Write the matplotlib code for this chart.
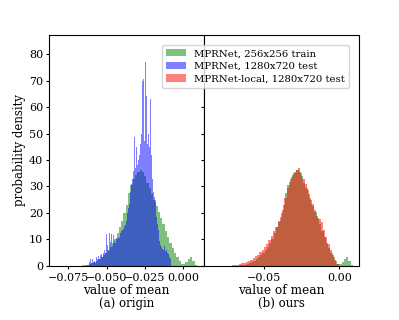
import numpy as np
import matplotlib
matplotlib.use("Agg")
import matplotlib.pyplot as plt

# ── Data (bin heights) ─────────────────────────────────────────────

# MPRNet, 256x256 train (same histogram in both panels)
train_start, train_width = -0.066, 0.0015
train_heights = [
    0.2, 0.3, 0.5, 0.8, 1.1, 1.5, 2.0, 2.6, 3.3, 4.0,
    5.0, 6.1, 7.3, 8.6, 10.2, 12.5, 14.8, 17.0, 19.8, 23.0,
    27.5, 30.5, 33.0, 34.5, 35.6, 36.3, 35.5, 33.8, 31.5, 29.5,
    27.0, 25.0, 22.5, 20.2, 18.0, 16.0, 13.0, 10.8, 8.5, 6.8,
    5.0, 3.3, 1.8, 0.8, 0.8, 1.6, 2.8, 3.4, 2.0, 0.5,
]

# MPRNet, 1280x720 test (left panel) - spiky, fine bins
test_start, test_width = -0.063, 0.0005
test_heights = [
    0.3, 0.8, 0.5, 1.5, 2.5, 0.8, 1.2, 2.8, 1.5, 3.0,
    2.0, 1.0, 3.5, 2.0, 2.5, 3.8, 2.8, 4.0, 3.0, 4.5,
    3.5, 5.0, 4.5, 6.0, 5.0, 12.0, 6.5, 8.0, 5.5, 12.5,
    7.0, 9.0, 12.0, 7.5, 11.5, 8.0, 9.5, 8.5, 10.5, 9.0,
    10.0, 11.0, 10.5, 12.0, 12.5, 13.0, 13.5, 14.5, 14.0, 15.0,
    15.5, 17.0, 18.0, 20.0, 22.0, 23.5, 26.0, 28.0, 31.0, 33.0,
    52.8, 36.0, 48.8, 37.0, 39.0, 45.0, 38.0, 40.0, 42.0, 60.0,
    46.0, 50.0, 70.0, 48.0, 70.5, 47.0, 77.0, 50.0, 64.0, 46.0,
    50.0, 82.8, 45.0, 63.0, 42.0, 33.0, 30.0, 28.0, 26.0, 24.0,
    22.0, 18.6, 16.0, 13.5, 11.0, 9.5, 8.0, 7.0, 17.0, 6.5,
    6.0, 7.5, 5.5, 7.0, 6.0, 5.0, 4.5, 4.0, 3.5, 2.5,
]

# MPRNet-local, 1280x720 test (right panel)
local_start, local_width = -0.0755, 0.0015
local_heights = [
    0.05, 0.1, 0.15, 0.2, 0.3, 0.45, 0.65, 0.95, 1.2, 1.5,
    1.9, 2.4, 3.0, 3.6, 4.3, 5.1, 6.0, 7.1, 8.3, 9.6,
    11.2, 13.0, 14.8, 16.5, 18.5, 21.0, 25.5, 29.5, 31.8, 33.5,
    35.0, 36.2, 36.9, 35.2, 33.0, 31.0, 28.5, 25.8, 23.5, 21.0,
    19.0, 17.6, 16.7, 13.5, 10.8, 8.2, 6.2, 4.0, 2.2, 0.8,
]

labels = ["MPRNet, 256x256 train", "MPRNet, 1280x720 test",
          "MPRNet-local, 1280x720 test"]


def left_edges(start, width, heights):
    return start + width * np.arange(len(heights))


plt.rcParams["font.family"] = "DejaVu Serif"
plt.rcParams["font.size"] = 8
plt.rcParams["xtick.major.size"] = 2.0
plt.rcParams["ytick.major.size"] = 2.0
plt.rcParams["xtick.major.pad"] = 2.8
plt.rcParams["ytick.major.pad"] = 2.5

fig = plt.figure(figsize=(3.99, 3.2), dpi=100)
ax1 = fig.add_axes([0.1236, 0.169, 0.3874, 0.7216])
ax2 = fig.add_axes([0.511, 0.169, 0.3887, 0.7216], sharey=ax1)

# left panel: origin
h_train = ax1.bar(left_edges(train_start, train_width, train_heights), train_heights,
                  width=train_width, align="edge", color="green", alpha=0.5, linewidth=0)
h_test = ax1.bar(left_edges(test_start, test_width, test_heights), test_heights,
                 width=test_width, align="edge", color="blue", alpha=0.5, linewidth=0)

# right panel: ours
ax2.bar(left_edges(train_start, train_width, train_heights), train_heights,
        width=train_width, align="edge", color="green", alpha=0.5, linewidth=0)
h_local = ax2.bar(left_edges(local_start, local_width, local_heights), local_heights,
                  width=local_width, align="edge", color="red", alpha=0.5, linewidth=0)

ax1.set_xlim(-0.0875, 0.0136)
ax2.set_xlim(-0.0898, 0.013)
ax1.set_ylim(0, 87.2)
ax1.set_xticks([-0.075, -0.050, -0.025, 0.000])
ax2.set_xticks([-0.05, 0.00])
ax1.set_yticks(range(0, 81, 10))
plt.setp(ax2.get_yticklabels(), visible=False)

ax1.set_ylabel("probability density", fontsize=8.5, labelpad=2)
for ax, sub in [(ax1, "(a) origin"), (ax2, "(b) ours")]:
    ax.set_xlabel("value of mean", fontsize=8.7, labelpad=1)
    ax.text(0.5, -0.176, sub, transform=ax.transAxes, ha="center",
            va="baseline", fontsize=8.5)

fig.legend([h_train, h_test, h_local], labels, loc="upper right",
           bbox_to_anchor=(0.887, 0.875), fontsize=7.3, handlelength=2.0,
           labelspacing=0.35, borderpad=0.4)

fig.savefig("out.png", dpi=100)
